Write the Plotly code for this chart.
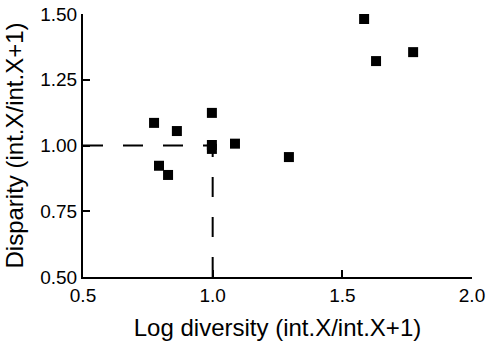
import plotly.graph_objects as go

# Data
log_diversity = [0.774, 0.862, 0.997, 0.997, 0.997, 1.086, 0.793, 0.828, 1.294, 1.584, 1.630, 1.773]
disparity     = [1.086, 1.055, 1.124, 1.002, 0.987, 1.007, 0.923, 0.888, 0.956, 1.481, 1.321, 1.355]

ref_x = 1.0
ref_y = 1.0
x_range = [0.5, 2.0]
y_range = [0.5, 1.5]
x_ticks = [0.5, 1.0, 1.5, 2.0]
x_ticklabels = ["0.5", "1.0", "1.5", "2.0"]
y_ticks = [0.5, 0.75, 1.0, 1.25, 1.5]
y_ticklabels = ["0.50", "0.75", "1.00", "1.25", "1.50"]

FONT = "Liberation Sans, Arial, Helvetica, sans-serif"

fig = go.Figure()

# Dashed reference lines
fig.add_trace(go.Scatter(
    x=[x_range[0], ref_x], y=[ref_y, ref_y], mode="lines",
    line=dict(color="black", width=2, dash="20px,20px"),
    hoverinfo="skip", showlegend=False))
fig.add_trace(go.Scatter(
    x=[ref_x, ref_x], y=[y_range[0], ref_y], mode="lines",
    line=dict(color="black", width=2, dash="20px,20px"),
    hoverinfo="skip", showlegend=False))

fig.add_trace(go.Scatter(
    x=log_diversity, y=disparity, mode="markers",
    marker=dict(symbol="square", size=10, color="black", line=dict(width=0)),
    showlegend=False))

axis_common = dict(
    showline=True, linecolor="black", linewidth=2,
    ticks="inside", ticklen=7, tickwidth=2, tickcolor="black",
    showgrid=False, zeroline=False, mirror=False,
    ticklabeloverflow="allow",
    tickfont=dict(family=FONT, size=19, color="black"),
)

fig.update_xaxes(range=x_range, tickvals=x_ticks, ticktext=x_ticklabels,
                 title=dict(text="Log diversity (int.X/int.X+1)",
                            font=dict(family=FONT, size=24, color="black"),
                            standoff=14),
                 **axis_common)
fig.update_yaxes(range=y_range, tickvals=y_ticks, ticktext=y_ticklabels,
                 title=dict(text="Disparity (int.X/int.X+1)",
                            font=dict(family=FONT, size=24, color="black"),
                            standoff=10),
                 **axis_common)

fig.update_layout(
    width=488, height=341,
    margin=dict(l=83, r=16, t=14, b=64, autoexpand=False),
    plot_bgcolor="white", paper_bgcolor="white",
    font=dict(family=FONT, color="black"),
)

# remove the default 8px page margin so the figure fills the window
fig.write_html("out.html",
               config={"displayModeBar": False},
               post_script="document.body.style.margin='0';document.body.style.overflow='hidden';")
